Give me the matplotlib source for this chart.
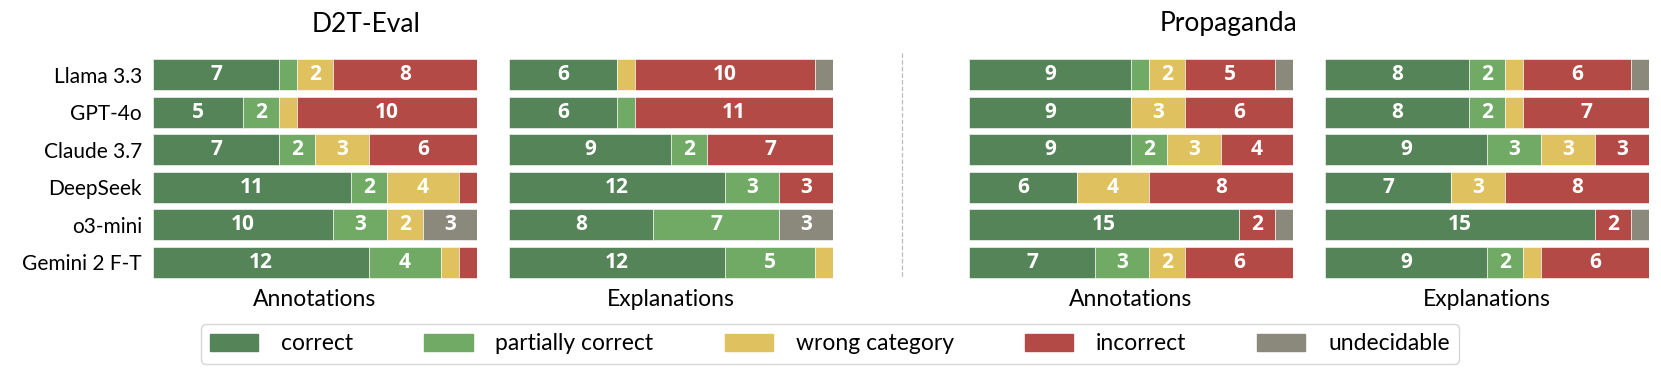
import matplotlib.pyplot as plt
import numpy as np

plt.rcParams["font.family"] = ["Lato", "DejaVu Sans"]

models = ["Llama 3.3", "GPT-4o", "Claude 3.7", "DeepSeek", "o3-mini", "Gemini 2 F-T"]
categories = ["correct", "partially correct", "wrong category", "incorrect", "undecidable"]
colors = ["#548457", "#70aa65", "#e0c160", "#b44a45", "#8b897c"]

# counts per model: correct, partial, wrong category, incorrect, undecidable
d2t_annotations = [
    [7, 1, 2, 8, 0],
    [5, 2, 1, 10, 0],
    [7, 2, 3, 6, 0],
    [11, 2, 4, 1, 0],
    [10, 3, 2, 0, 3],
    [12, 4, 1, 1, 0],
]
d2t_explanations = [
    [6, 0, 1, 10, 1],
    [6, 1, 0, 11, 0],
    [9, 2, 0, 7, 0],
    [12, 3, 0, 3, 0],
    [8, 7, 0, 0, 3],
    [12, 5, 1, 0, 0],
]
prop_annotations = [
    [9, 1, 2, 5, 1],
    [9, 0, 3, 6, 0],
    [9, 2, 3, 4, 0],
    [6, 0, 4, 8, 0],
    [15, 0, 0, 2, 1],
    [7, 3, 2, 6, 0],
]
prop_explanations = [
    [8, 2, 1, 6, 1],
    [8, 2, 1, 7, 0],
    [9, 3, 3, 3, 0],
    [7, 0, 3, 8, 0],
    [15, 0, 0, 2, 1],
    [9, 2, 1, 6, 0],
]

panels = [
    (d2t_annotations, "Annotations", 153),
    (d2t_explanations, "Explanations", 509),
    (prop_annotations, "Annotations", 969),
    (prop_explanations, "Explanations", 1325),
]

W, H = 1661, 380
fig = plt.figure(figsize=(W / 100, H / 100), dpi=100)

pw = 324
top, bottom = 56, 281
for i, (data, subtitle, x0) in enumerate(panels):
    ax = fig.add_axes([x0 / W, 1 - bottom / H, pw / W, (bottom - top) / H])
    data = np.array(data)
    y = np.arange(len(models))
    left = np.zeros(len(models))
    for j, cat in enumerate(categories):
        vals = data[:, j]
        ax.barh(y, vals, left=left, height=0.83, color=colors[j],
                edgecolor="white", linewidth=0.4, label=cat)
        for k, v in enumerate(vals):
            if v >= 2:
                ax.text(left[k] + v / 2, y[k], str(v), ha="center", va="center",
                        color="white", fontsize=15, fontweight="bold",
                        family=["Open Sans", "DejaVu Sans"])
        left += vals
    ax.set_xlim(0, data.sum(axis=1).max())
    ax.set_ylim(len(models) - 0.5, -0.5)
    for s in ax.spines.values():
        s.set_visible(False)
    ax.set_xticks([])
    ax.tick_params(axis="y", length=0, pad=8)
    if i == 0:
        ax.set_yticks(y)
        ax.set_yticklabels(models, fontsize=15)
    else:
        ax.set_yticks([])
    ax.set_xlabel(subtitle, fontsize=16.5, labelpad=6)

fig.text(366 / W, 1 - 24 / H, "D2T-Eval", ha="center", va="center", fontsize=19)
fig.text(1229 / W, 1 - 24 / H, "Propaganda", ha="center", va="center", fontsize=19)

fig.add_artist(plt.Line2D([902 / W, 902 / W], [1 - 53 / H, 1 - 278 / H],
                          color="#bbbbbb", linestyle="--", linewidth=0.9))

handles = [plt.Rectangle((0, 0), 1, 1, color=c) for c in colors]
fig.legend(handles, categories, loc="center", bbox_to_anchor=(830 / W, 1 - 344 / H),
           ncol=5, fontsize=16.5, frameon=True, handlelength=2.1, handleheight=0.75,
           columnspacing=3.1, handletextpad=1.0, borderpad=0.4,
           edgecolor="#cccccc", fancybox=True)

plt.savefig("out.png", dpi=100)
plt.close()
